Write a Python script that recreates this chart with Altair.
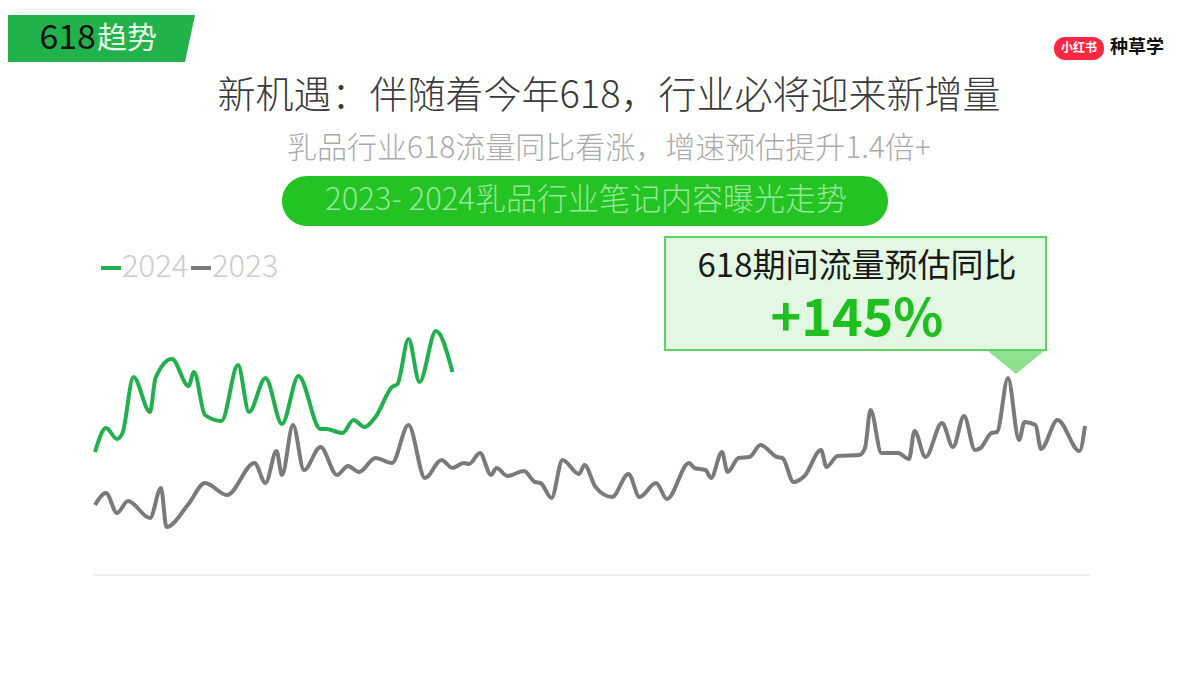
import altair as alt
import pandas as pd

# ---------------- data ----------------
# day index (Jan 1 = 0) and note-exposure index
days_2023 = [0, 2, 4, 6, 10, 12, 13, 17, 20, 24, 29, 31, 33, 34, 36, 38, 41, 44, 46, 48,
             51, 54, 57, 60, 63, 65, 67, 68, 70, 72, 73, 75, 78, 80, 81, 83, 85, 88, 89, 91,
             94, 97, 99, 102, 104, 108, 109, 111, 112, 114, 115, 117, 119, 121, 124, 125, 127, 129, 132, 133,
             135, 139, 140, 141, 143, 146, 148, 149, 151, 154, 156, 158, 160, 161, 163, 164, 166, 168, 169, 171,
             172, 175, 179, 180]
values_2023 = [70, 82, 62, 74, 57, 87, 48, 71, 92, 80, 112, 92, 124, 100, 150, 105, 128, 100, 109, 103,
               117, 112, 150, 97, 115, 107, 112, 111, 122, 100, 107, 99, 104, 93, 92, 77, 115, 101, 110, 88,
               78, 101, 78, 92, 76, 112, 107, 105, 97, 123, 103, 117, 118, 130, 118, 117, 93, 99, 125, 108,
               119, 120, 127, 165, 122, 122, 116, 144, 118, 152, 128, 159, 125, 127, 142, 143, 197, 135, 153, 150,
               126, 155, 124, 149]
days_2024 = [0, 2, 4, 5, 7, 10, 11, 14, 17, 18, 20, 23, 26, 28, 31, 34, 37, 41, 42, 45,
             47, 49, 51, 54, 55, 57, 59, 62, 65]
values_2024 = [123, 147, 136, 142, 198, 163, 197, 216, 189, 203, 160, 154, 210, 163, 197, 151, 199, 146, 146, 142,
               155, 148, 158, 188, 191, 236, 193, 244, 203]
series_names = ["2024", "2023"]
series_colors = ["#22b04f", "#7a7a7a"]
baseline_days = [-0.4, 181]
baseline_values = [0, 0]

# ---------------- texts ----------------
TAG_NUM = "618"
TAG_CN = "趋势"
TITLE = "新机遇：伴随着今年618，行业必将迎来新增量"
SUBTITLE = "乳品行业618流量同比看涨，增速预估提升1.4倍+"
BANNER = "2023- 2024乳品行业笔记内容曝光走势"
CALLOUT_1 = "618期间流量预估同比"
CALLOUT_2 = "+145%"
LOGO_RED = "小红书"
LOGO_TXT = "种草学"

FONT = "Noto Sans CJK SC"
W, H = 1184, 659

df = pd.concat([
    pd.DataFrame({"day": days_2024, "value": values_2024, "year": "2024"}),
    pd.DataFrame({"day": days_2023, "value": values_2023, "year": "2023"}),
])
one = pd.DataFrame({"k": [0]})
base_df = pd.DataFrame({"day": baseline_days, "value": baseline_values})

xs = alt.Scale(domain=[0, 180], range=[87, 1077], nice=False)
ys = alt.Scale(domain=[0, 260], range=[567, 307], nice=False)


def txt(s, x, y, size, color, weight="normal", align="center", font=FONT):
    return alt.Chart(one).mark_text(
        text=s, align=align, baseline="middle", font=font, fontSize=size,
        fontWeight=weight, color=color
    ).encode(x=alt.value(x), y=alt.value(y))


def shape(path, x, y, color):
    return alt.Chart(one).mark_point(
        shape=path, size=4, filled=True, fill=color, opacity=1, strokeWidth=0
    ).encode(x=alt.value(x), y=alt.value(y))


def box(x, x2, y, y2, fill, radius=0, stroke=None, sw=0):
    kw = dict(fill=fill, cornerRadius=radius, strokeWidth=sw)
    if stroke:
        kw["stroke"] = stroke
    return alt.Chart(one).mark_rect(**kw).encode(
        x=alt.value(x), x2=alt.value(x2), y=alt.value(y), y2=alt.value(y2))


# baseline (value 0 across the whole period)
baseline = alt.Chart(base_df).mark_line(color="#eeeeee", strokeWidth=2).encode(
    x=alt.X("day:Q", scale=xs, axis=None),
    y=alt.Y("value:Q", scale=ys, axis=None),
)

lines = alt.Chart(df).mark_line(strokeWidth=4, interpolate="monotone").encode(
    x=alt.X("day:Q", scale=xs, axis=None),
    y=alt.Y("value:Q", scale=ys, axis=None),
    color=alt.Color("year:N", scale=alt.Scale(domain=series_names, range=series_colors), legend=None),
)

layers = [
    # tag
    shape("M-8,0 L187,0 L177,47 L-8,47 Z", 0, 7, "#22b24c"),
    txt(TAG_NUM, 88, 31, 34, "#111111", align="right"),
    txt(TAG_CN, 89, 31, 30, "#e6f7e6", align="left"),
    # logo
    box(1046, 1096, 29, 52, "#ff2741", radius=11),
    txt(LOGO_RED, 1071, 40, 12, "#ffffff", weight="bold"),
    txt(LOGO_TXT, 1102, 40, 18, "#111111", weight="bold", align="left"),
    # titles
    txt(TITLE, 601, 89, 38, "#3a3a3a", weight=300),
    txt(SUBTITLE, 601, 141, 30, "#ababab", weight=300),
    box(274, 880, 168, 218, "#22c322", radius=25),
    txt(BANNER, 578, 193, 31, "#98e698", weight=300),
    # legend
    box(93, 113, 258, 262, series_colors[0]),
    txt(series_names[0], 114, 260, 31, "#cccccc", weight=300, align="left"),
    box(183, 203, 258, 262, series_colors[1]),
    txt(series_names[1], 204, 260, 31, "#cccccc", weight=300, align="left"),
    baseline,
    lines,
    # callout
    box(657, 1038, 229, 342, "#e3f8e3", stroke="#5fd35f", sw=2),
    shape("M0,0 L56,0 L28,23 Z", 980, 343, "#8fe08f"),
    txt(CALLOUT_1, 849, 259, 33, "#1a1a1a"),
    txt(CALLOUT_2, 849, 312, 52, "#1fbf1f", weight="bold"),
]

chart = alt.layer(*layers).properties(
    width=W, height=H, autosize=alt.AutoSizeParams(type="none"), padding=0, background="#ffffff"
).configure_view(strokeOpacity=0)

chart.save("out.html", embed_options={"renderer": "svg", "actions": False})
